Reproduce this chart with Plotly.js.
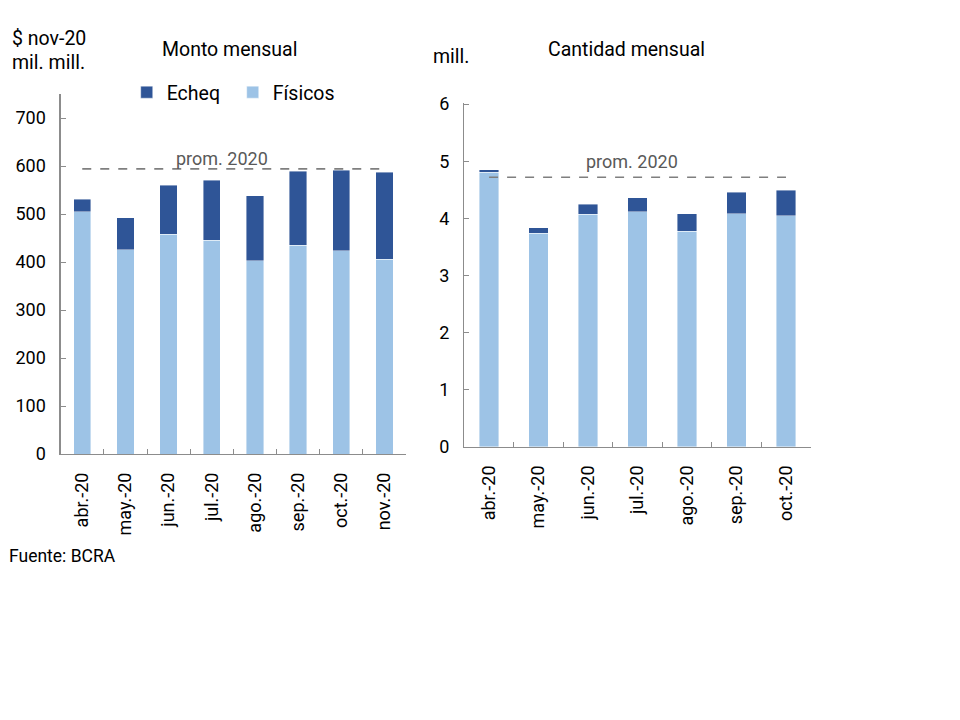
<!DOCTYPE html>
<html>
<head>
<meta charset="utf-8">
<script src="https://cdn.plot.ly/plotly-3.0.1.min.js"></script>
<style>html,body{margin:0;padding:0;background:#fff;}#chart{width:960px;height:720px;}</style>
</head>
<body>
<div id="chart"></div>
<script>
// Monto mensual ($ nov-20, mil. mill.)
const montoMeses = ["abr.-20","may.-20","jun.-20","jul.-20","ago.-20","sep.-20","oct.-20","nov.-20"];
const montoFisicos = [505, 426, 458, 445, 403, 435, 423, 406];
const montoEcheq = [26, 66, 102, 125, 135, 154, 168, 181];
const montoProm = 594;

// Cantidad mensual (mill.)
const cantMeses = ["abr.-20","may.-20","jun.-20","jul.-20","ago.-20","sep.-20","oct.-20"];
const cantFisicos = [4.81, 3.74, 4.07, 4.12, 3.78, 4.08, 4.05];
const cantEcheq = [0.04, 0.10, 0.18, 0.24, 0.30, 0.38, 0.44];
const cantProm = 4.72;

const cDark = "#2F5597";
const cLight = "#9DC3E6";
const font = "Roboto, 'Liberation Sans', Arial, sans-serif";

const traces = [
  {type:"bar", x:montoMeses, y:montoFisicos, name:"Físicos", xaxis:"x", yaxis:"y",
   marker:{color:cLight, line:{color:"rgba(255,255,255,0.7)", width:0.6}}, width:0.4, hoverinfo:"skip"},
  {type:"bar", x:montoMeses, y:montoEcheq, name:"Echeq", xaxis:"x", yaxis:"y",
   marker:{color:cDark, line:{color:"rgba(255,255,255,0.7)", width:0.6}}, width:0.4, hoverinfo:"skip"},
  {type:"scatter", mode:"lines", x:[montoMeses[0], montoMeses[montoMeses.length-1]], y:[montoProm, montoProm],
   xaxis:"x", yaxis:"y", line:{color:"#7f7f7f", dash:"dash", width:1.6}, showlegend:false, hoverinfo:"skip"},
  {type:"bar", x:cantMeses, y:cantFisicos, name:"Físicos", xaxis:"x2", yaxis:"y2", showlegend:false,
   marker:{color:cLight, line:{color:"rgba(255,255,255,0.7)", width:0.6}}, width:0.4, hoverinfo:"skip"},
  {type:"bar", x:cantMeses, y:cantEcheq, name:"Echeq", xaxis:"x2", yaxis:"y2", showlegend:false,
   marker:{color:cDark, line:{color:"rgba(255,255,255,0.7)", width:0.6}}, width:0.4, hoverinfo:"skip"},
  {type:"scatter", mode:"lines", x:[cantMeses[0], cantMeses[cantMeses.length-1]], y:[cantProm, cantProm],
   xaxis:"x2", yaxis:"y2", line:{color:"#7f7f7f", dash:"dash", width:1.6}, showlegend:false, hoverinfo:"skip"}
];

const axCommon = {showgrid:false, zeroline:false, showline:true, linecolor:"#8c8c8c", linewidth:1.3,
  ticks:"inside", ticklen:5, tickcolor:"#8c8c8c", ticklabelstandoff:10, tickfont:{family:font, size:18, color:"#000"}};

const layout = {
  width:960, height:720, margin:{l:0, r:0, t:0, b:0},
  paper_bgcolor:"#fff", plot_bgcolor:"rgba(0,0,0,0)",
  barmode:"stack", font:{family:font, color:"#000"},
  xaxis:Object.assign({}, axCommon, {domain:[0.0632, 0.4229], anchor:"y", tickangle:-90, tickson:"boundaries", type:"category"}),
  yaxis:Object.assign({}, axCommon, {domain:[0.3694, 0.8694], anchor:"x", range:[0, 750], tickvals:[0,100,200,300,400,500,600,700]}),
  xaxis2:Object.assign({}, axCommon, {domain:[0.4837, 0.8445], anchor:"y2", tickangle:-90, tickson:"boundaries", type:"category"}),
  yaxis2:Object.assign({}, axCommon, {domain:[0.3792, 0.8569], anchor:"x2", range:[0, 6.02], tickvals:[0,1,2,3,4,5,6]}),
  legend:{orientation:"h", x:0.132, y:1-73/720, xanchor:"left", yanchor:"top", font:{family:font, size:19.5},
    bgcolor:"rgba(0,0,0,0)", itemwidth:30, entrywidth:61, traceorder:"reversed"},
  annotations:[
    {text:"$ nov-20", x:10/960, y:1-38/720, xref:"paper", yref:"paper", xanchor:"left", yanchor:"middle", showarrow:false, font:{size:19.5}},
    {text:"mil. mill.", x:10/960, y:1-62/720, xref:"paper", yref:"paper", xanchor:"left", yanchor:"middle", showarrow:false, font:{size:19.5}},
    {text:"Monto mensual", x:229/960, y:1-50/720, xref:"paper", yref:"paper", xanchor:"center", yanchor:"middle", showarrow:false, font:{size:19.5}},
    {text:"mill.", x:431/960, y:1-57/720, xref:"paper", yref:"paper", xanchor:"left", yanchor:"middle", showarrow:false, font:{size:19.5}},
    {text:"Cantidad mensual", x:626/960, y:1-50/720, xref:"paper", yref:"paper", xanchor:"center", yanchor:"middle", showarrow:false, font:{size:19.5}},
    {text:"prom. 2020", x:222/960, y:1-158/720, xref:"paper", yref:"paper", xanchor:"center", yanchor:"middle", showarrow:false, font:{size:18, color:"#595959"}},
    {text:"prom. 2020", x:632/960, y:1-161/720, xref:"paper", yref:"paper", xanchor:"center", yanchor:"middle", showarrow:false, font:{size:18, color:"#595959"}},
    {text:"Fuente: BCRA", x:7/960, y:1-556/720, xref:"paper", yref:"paper", xanchor:"left", yanchor:"middle", showarrow:false, font:{size:17.5}}
  ]
};

Plotly.newPlot("chart", traces, layout, {staticPlot:true, displayModeBar:false});
</script>
</body>
</html>
